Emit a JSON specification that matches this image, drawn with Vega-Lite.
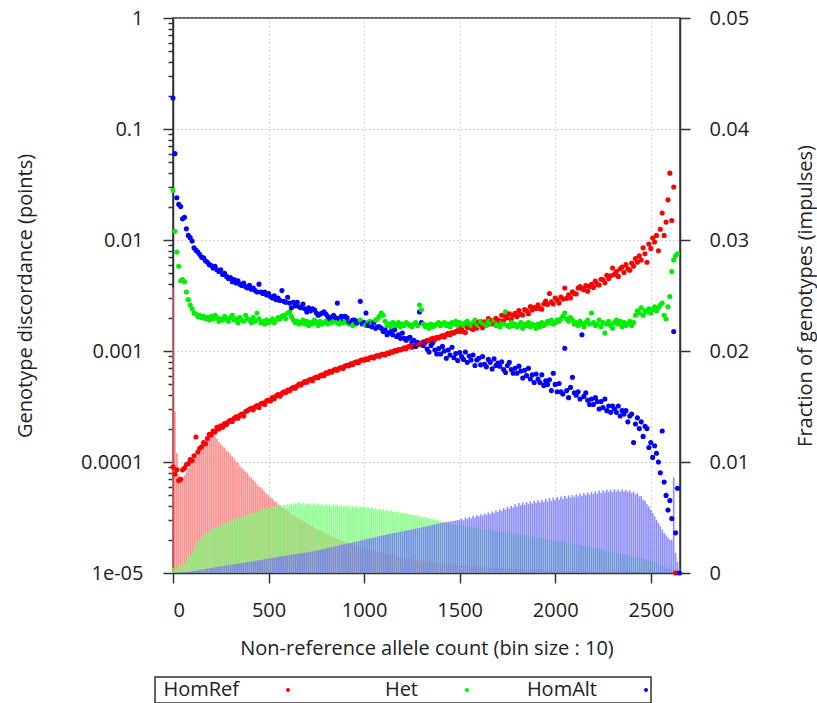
{
"$schema":"https://vega.github.io/schema/vega-lite/v6.json",
"width":507,"height":555,
"autosize":{"type":"none"},
"padding":{"left":173,"top":18,"right":137,"bottom":130},
"config":{"font":"Open Sans","view":{"stroke":"#333","strokeWidth":1.5},
"axis":{"labelFontSize":20,"titleFontSize":20,"labelColor":"#222","titleColor":"#222","titleFontWeight":"normal","domainColor":"#333","tickColor":"#333","domainWidth":1.5,"tickWidth":1.5,"gridColor":"#aaa","gridDash":[1,3],"gridWidth":1},
"legend":{"strokeWidth":1.5}},
"data":{"values":[
{"x":0,"r":9.0e-5,"e":0.028,"a":0.19,"R":0.0257,"E":4.5e-4,"A":0},
{"x":10,"r":7.8e-5,"e":0.012,"a":0.06,"R":0.0145,"E":4.5e-4,"A":0},
{"x":20,"r":8.5e-5,"e":7.8e-3,"a":0.024,"R":0.0108,"E":5.0e-4,"A":1e-5},
{"x":30,"r":6.8e-5,"e":5.8e-3,"a":0.021,"R":8.8e-3,"E":5.5e-4,"A":2e-5},
{"x":40,"r":7.0e-5,"e":4.3e-3,"a":0.02,"R":8.4e-3,"E":6.5e-4,"A":3e-5},
{"x":50,"r":8.5e-5,"e":4.4e-3,"a":0.0155,"R":8.6e-3,"E":7.5e-4,"A":4e-5},
{"x":60,"r":8.8e-5,"e":4.2e-3,"a":0.016,"R":8.8e-3,"E":9.0e-4,"A":6e-5},
{"x":70,"r":9.5e-5,"e":3.4e-3,"a":0.0126,"R":9.1e-3,"E":1.1e-3,"A":8e-5},
{"x":80,"r":9.7e-5,"e":2.9e-3,"a":0.011,"R":9.4e-3,"E":1.4e-3,"A":1.0e-4},
{"x":90,"r":1.05e-4,"e":2.6e-3,"a":0.0105,"R":9.8e-3,"E":1.6e-3,"A":1.2e-4},
{"x":100,"r":1.03e-4,"e":2.4e-3,"a":9.8e-3,"R":0.0101,"E":1.9e-3,"A":1.5e-4},
{"x":110,"r":1.14e-4,"e":2.2e-3,"a":8.5e-3,"R":0.0103,"E":2.2e-3,"A":1.8e-4},
{"x":120,"r":1.68e-4,"e":2.15e-3,"a":8.1e-3,"R":0.0106,"E":2.5e-3,"A":2.1e-4},
{"x":130,"r":1.23e-4,"e":2.05e-3,"a":7.8e-3,"R":0.0108,"E":2.75e-3,"A":2.4e-4},
{"x":140,"r":1.33e-4,"e":2.1e-3,"a":7.4e-3,"R":0.011,"E":3.0e-3,"A":2.7e-4},
{"x":150,"r":1.37e-4,"e":2.0e-3,"a":7.0e-3,"R":0.0113,"E":3.2e-3,"A":3.0e-4},
{"x":160,"r":1.5e-4,"e":2.05e-3,"a":6.9e-3,"R":0.0115,"E":3.4e-3,"A":3.3e-4},
{"x":170,"r":1.46e-4,"e":1.95e-3,"a":6.5e-3,"R":0.0118,"E":3.55e-3,"A":3.6e-4},
{"x":180,"r":1.63e-4,"e":2.0e-3,"a":6.3e-3,"R":0.012,"E":3.7e-3,"A":3.9e-4},
{"x":190,"r":1.78e-4,"e":1.9e-3,"a":6.0e-3,"R":0.0122,"E":3.8e-3,"A":4.2e-4},
{"x":200,"r":1.75e-4,"e":2.05e-3,"a":5.9e-3,"R":0.0124,"E":3.9e-3,"A":4.5e-4},
{"x":210,"r":1.9e-4,"e":1.95e-3,"a":5.6e-3,"R":0.0125,"E":4.0e-3,"A":4.8e-4},
{"x":220,"r":1.86e-4,"e":2.1e-3,"a":5.8e-3,"R":0.0123,"E":4.05e-3,"A":5.1e-4},
{"x":230,"r":2.05e-4,"e":2.0e-3,"a":5.4e-3,"R":0.0121,"E":4.15e-3,"A":5.4e-4},
{"x":240,"r":1.98e-4,"e":1.85e-3,"a":5.2e-3,"R":0.0118,"E":4.2e-3,"A":5.6e-4},
{"x":250,"r":2.12e-4,"e":1.95e-3,"a":5.4e-3,"R":0.0116,"E":4.3e-3,"A":5.9e-4},
{"x":260,"r":2.06e-4,"e":1.9e-3,"a":4.9e-3,"R":0.0114,"E":4.35e-3,"A":6.2e-4},
{"x":270,"r":2.22e-4,"e":2.05e-3,"a":5.0e-3,"R":0.0113,"E":4.45e-3,"A":6.5e-4},
{"x":280,"r":2.18e-4,"e":1.95e-3,"a":4.7e-3,"R":0.011,"E":4.5e-3,"A":6.8e-4},
{"x":290,"r":2.3e-4,"e":1.85e-3,"a":4.5e-3,"R":0.0109,"E":4.6e-3,"A":7.0e-4},
{"x":300,"r":2.38e-4,"e":2.0e-3,"a":4.6e-3,"R":0.0107,"E":4.7e-3,"A":7.3e-4},
{"x":310,"r":2.32e-4,"e":2.1e-3,"a":4.2e-3,"R":0.0105,"E":4.75e-3,"A":7.6e-4},
{"x":320,"r":2.47e-4,"e":1.9e-3,"a":4.4e-3,"R":0.0103,"E":4.8e-3,"A":7.9e-4},
{"x":330,"r":2.55e-4,"e":1.95e-3,"a":4.1e-3,"R":0.01,"E":4.85e-3,"A":8.2e-4},
{"x":340,"r":2.48e-4,"e":1.8e-3,"a":4.3e-3,"R":9.9e-3,"E":4.95e-3,"A":8.4e-4},
{"x":350,"r":2.63e-4,"e":2.0e-3,"a":4.0e-3,"R":9.6e-3,"E":5.0e-3,"A":8.7e-4},
{"x":360,"r":2.7e-4,"e":1.9e-3,"a":3.9e-3,"R":9.5e-3,"E":5.05e-3,"A":9.0e-4},
{"x":370,"r":2.6e-4,"e":1.85e-3,"a":4.1e-3,"R":9.3e-3,"E":5.1e-3,"A":9.3e-4},
{"x":380,"r":2.85e-4,"e":2.1e-3,"a":3.8e-3,"R":9.1e-3,"E":5.15e-3,"A":9.6e-4},
{"x":390,"r":2.9e-4,"e":1.95e-3,"a":3.7e-3,"R":9.0e-3,"E":5.2e-3,"A":9.8e-4},
{"x":400,"r":2.98e-4,"e":1.9e-3,"a":3.9e-3,"R":8.7e-3,"E":5.3e-3,"A":1.01e-3},
{"x":410,"r":3.05e-4,"e":1.8e-3,"a":3.6e-3,"R":8.6e-3,"E":5.35e-3,"A":1.04e-3},
{"x":420,"r":2.95e-4,"e":2.0e-3,"a":3.7e-3,"R":8.4e-3,"E":5.4e-3,"A":1.07e-3},
{"x":430,"r":3.15e-4,"e":1.85e-3,"a":3.5e-3,"R":8.2e-3,"E":5.5e-3,"A":1.1e-3},
{"x":440,"r":3.22e-4,"e":2.2e-3,"a":3.4e-3,"R":8.0e-3,"E":5.55e-3,"A":1.12e-3},
{"x":450,"r":3.1e-4,"e":1.95e-3,"a":4.0e-3,"R":7.8e-3,"E":5.6e-3,"A":1.15e-3},
{"x":460,"r":3.35e-4,"e":1.8e-3,"a":3.4e-3,"R":7.7e-3,"E":5.7e-3,"A":1.18e-3},
{"x":470,"r":3.4e-4,"e":1.85e-3,"a":3.3e-3,"R":7.5e-3,"E":5.75e-3,"A":1.21e-3},
{"x":480,"r":3.3e-4,"e":1.75e-3,"a":3.4e-3,"R":7.3e-3,"E":5.8e-3,"A":1.24e-3},
{"x":490,"r":3.55e-4,"e":1.9e-3,"a":3.2e-3,"R":7.1e-3,"E":5.85e-3,"A":1.27e-3},
{"x":500,"r":3.62e-4,"e":1.8e-3,"a":3.3e-3,"R":7.0e-3,"E":5.9e-3,"A":1.3e-3},
{"x":510,"r":3.55e-4,"e":1.85e-3,"a":3.1e-3,"R":6.8e-3,"E":5.95e-3,"A":1.33e-3},
{"x":520,"r":3.8e-4,"e":1.95e-3,"a":3.0e-3,"R":6.7e-3,"E":6.0e-3,"A":1.36e-3},
{"x":530,"r":3.72e-4,"e":1.8e-3,"a":3.15e-3,"R":6.5e-3,"E":5.95e-3,"A":1.39e-3},
{"x":540,"r":3.95e-4,"e":1.9e-3,"a":2.9e-3,"R":6.4e-3,"E":6.05e-3,"A":1.42e-3},
{"x":550,"r":4.05e-4,"e":2.0e-3,"a":3.0e-3,"R":6.2e-3,"E":6.0e-3,"A":1.45e-3},
{"x":560,"r":3.92e-4,"e":1.95e-3,"a":2.85e-3,"R":6.1e-3,"E":6.1e-3,"A":1.48e-3},
{"x":570,"r":4.15e-4,"e":2.05e-3,"a":3.5e-3,"R":5.9e-3,"E":6.05e-3,"A":1.51e-3},
{"x":580,"r":4.3e-4,"e":2.1e-3,"a":2.8e-3,"R":5.8e-3,"E":6.15e-3,"A":1.54e-3},
{"x":590,"r":4.22e-4,"e":1.95e-3,"a":2.75e-3,"R":5.7e-3,"E":6.0e-3,"A":1.57e-3},
{"x":600,"r":4.45e-4,"e":2.2e-3,"a":3.05e-3,"R":5.6e-3,"E":6.2e-3,"A":1.6e-3},
{"x":610,"r":4.38e-4,"e":2.25e-3,"a":2.7e-3,"R":5.5e-3,"E":6.1e-3,"A":1.62e-3},
{"x":620,"r":4.6e-4,"e":2.05e-3,"a":2.45e-3,"R":5.3e-3,"E":6.25e-3,"A":1.65e-3},
{"x":630,"r":4.72e-4,"e":1.9e-3,"a":2.75e-3,"R":5.2e-3,"E":6.15e-3,"A":1.67e-3},
{"x":640,"r":4.62e-4,"e":1.8e-3,"a":2.55e-3,"R":5.1e-3,"E":6.3e-3,"A":1.7e-3},
{"x":650,"r":4.85e-4,"e":1.85e-3,"a":2.75e-3,"R":5.0e-3,"E":6.2e-3,"A":1.72e-3},
{"x":660,"r":5.05e-4,"e":1.75e-3,"a":2.5e-3,"R":4.9e-3,"E":6.35e-3,"A":1.75e-3},
{"x":670,"r":4.95e-4,"e":1.8e-3,"a":2.45e-3,"R":4.8e-3,"E":6.2e-3,"A":1.77e-3},
{"x":680,"r":5.15e-4,"e":1.9e-3,"a":2.65e-3,"R":4.7e-3,"E":6.3e-3,"A":1.8e-3},
{"x":690,"r":5.3e-4,"e":1.75e-3,"a":2.4e-3,"R":4.6e-3,"E":6.15e-3,"A":1.82e-3},
{"x":700,"r":5.22e-4,"e":1.85e-3,"a":2.25e-3,"R":4.5e-3,"E":6.3e-3,"A":1.85e-3},
{"x":710,"r":5.45e-4,"e":1.7e-3,"a":2.45e-3,"R":4.4e-3,"E":6.2e-3,"A":1.88e-3},
{"x":720,"r":5.55e-4,"e":1.8e-3,"a":2.3e-3,"R":4.3e-3,"E":6.25e-3,"A":1.92e-3},
{"x":730,"r":5.4e-4,"e":1.75e-3,"a":2.4e-3,"R":4.2e-3,"E":6.1e-3,"A":1.95e-3},
{"x":740,"r":5.7e-4,"e":1.9e-3,"a":2.35e-3,"R":4.1e-3,"E":6.3e-3,"A":1.99e-3},
{"x":750,"r":5.82e-4,"e":1.8e-3,"a":2.2e-3,"R":4.0e-3,"E":6.15e-3,"A":2.02e-3},
{"x":760,"r":5.75e-4,"e":1.7e-3,"a":2.1e-3,"R":3.9e-3,"E":6.25e-3,"A":2.06e-3},
{"x":770,"r":6.0e-4,"e":1.85e-3,"a":2.15e-3,"R":3.85e-3,"E":6.1e-3,"A":2.09e-3},
{"x":780,"r":6.1e-4,"e":1.75e-3,"a":2.2e-3,"R":3.75e-3,"E":6.2e-3,"A":2.13e-3},
{"x":790,"r":5.98e-4,"e":1.8e-3,"a":2.25e-3,"R":3.65e-3,"E":6.05e-3,"A":2.16e-3},
{"x":800,"r":6.35e-4,"e":1.85e-3,"a":2.15e-3,"R":3.55e-3,"E":6.2e-3,"A":2.2e-3},
{"x":810,"r":6.3e-4,"e":1.75e-3,"a":2.05e-3,"R":3.5e-3,"E":6.1e-3,"A":2.24e-3},
{"x":820,"r":6.55e-4,"e":1.9e-3,"a":1.95e-3,"R":3.4e-3,"E":6.15e-3,"A":2.28e-3},
{"x":830,"r":6.45e-4,"e":1.8e-3,"a":2.0e-3,"R":3.3e-3,"E":6.0e-3,"A":2.32e-3},
{"x":840,"r":6.7e-4,"e":1.85e-3,"a":2.1e-3,"R":3.25e-3,"E":6.2e-3,"A":2.36e-3},
{"x":850,"r":6.85e-4,"e":1.95e-3,"a":2.0e-3,"R":3.15e-3,"E":6.05e-3,"A":2.4e-3},
{"x":860,"r":6.72e-4,"e":1.8e-3,"a":2.7e-3,"R":3.1e-3,"E":6.15e-3,"A":2.44e-3},
{"x":870,"r":7.0e-4,"e":1.75e-3,"a":1.95e-3,"R":3.0e-3,"E":6.0e-3,"A":2.48e-3},
{"x":880,"r":7.1e-4,"e":1.85e-3,"a":2.05e-3,"R":2.95e-3,"E":6.1e-3,"A":2.52e-3},
{"x":890,"r":6.95e-4,"e":1.8e-3,"a":1.95e-3,"R":2.9e-3,"E":5.95e-3,"A":2.56e-3},
{"x":900,"r":7.3e-4,"e":1.9e-3,"a":2.05e-3,"R":2.8e-3,"E":6.1e-3,"A":2.6e-3},
{"x":910,"r":7.45e-4,"e":1.8e-3,"a":2.0e-3,"R":2.75e-3,"E":6.0e-3,"A":2.64e-3},
{"x":920,"r":7.35e-4,"e":1.75e-3,"a":1.85e-3,"R":2.7e-3,"E":6.05e-3,"A":2.68e-3},
{"x":930,"r":7.65e-4,"e":1.85e-3,"a":1.8e-3,"R":2.6e-3,"E":5.9e-3,"A":2.72e-3},
{"x":940,"r":7.55e-4,"e":1.7e-3,"a":1.9e-3,"R":2.55e-3,"E":6.05e-3,"A":2.76e-3},
{"x":950,"r":7.85e-4,"e":1.8e-3,"a":1.9e-3,"R":2.5e-3,"E":5.95e-3,"A":2.8e-3},
{"x":960,"r":8.0e-4,"e":1.75e-3,"a":1.8e-3,"R":2.45e-3,"E":6.0e-3,"A":2.84e-3},
{"x":970,"r":7.85e-4,"e":1.85e-3,"a":1.85e-3,"R":2.4e-3,"E":5.85e-3,"A":2.88e-3},
{"x":980,"r":8.2e-4,"e":1.9e-3,"a":2.8e-3,"R":2.3e-3,"E":6.0e-3,"A":2.92e-3},
{"x":990,"r":8.35e-4,"e":1.8e-3,"a":1.75e-3,"R":2.25e-3,"E":5.9e-3,"A":2.96e-3},
{"x":1000,"r":8.25e-4,"e":1.75e-3,"a":1.8e-3,"R":2.2e-3,"E":5.95e-3,"A":3.0e-3},
{"x":1010,"r":8.5e-4,"e":1.7e-3,"a":2.2e-3,"R":2.15e-3,"E":5.85e-3,"A":3.04e-3},
{"x":1020,"r":8.4e-4,"e":1.8e-3,"a":1.7e-3,"R":2.1e-3,"E":5.95e-3,"A":3.08e-3},
{"x":1030,"r":8.7e-4,"e":1.85e-3,"a":1.75e-3,"R":2.05e-3,"E":5.8e-3,"A":3.12e-3},
{"x":1040,"r":8.8e-4,"e":1.75e-3,"a":1.65e-3,"R":2.0e-3,"E":5.9e-3,"A":3.16e-3},
{"x":1050,"r":8.65e-4,"e":1.8e-3,"a":1.8e-3,"R":1.95e-3,"E":5.75e-3,"A":3.2e-3},
{"x":1060,"r":8.95e-4,"e":1.9e-3,"a":1.6e-3,"R":1.9e-3,"E":5.85e-3,"A":3.24e-3},
{"x":1070,"r":9.1e-4,"e":1.95e-3,"a":1.65e-3,"R":1.87e-3,"E":5.7e-3,"A":3.28e-3},
{"x":1080,"r":8.95e-4,"e":2.05e-3,"a":1.65e-3,"R":1.83e-3,"E":5.8e-3,"A":3.32e-3},
{"x":1090,"r":9.3e-4,"e":2.2e-3,"a":1.6e-3,"R":1.79e-3,"E":5.65e-3,"A":3.36e-3},
{"x":1100,"r":9.35e-4,"e":2.1e-3,"a":1.5e-3,"R":1.75e-3,"E":5.75e-3,"A":3.4e-3},
{"x":1110,"r":9.2e-4,"e":1.85e-3,"a":1.55e-3,"R":1.71e-3,"E":5.6e-3,"A":3.43e-3},
{"x":1120,"r":9.6e-4,"e":1.7e-3,"a":1.4e-3,"R":1.67e-3,"E":5.7e-3,"A":3.47e-3},
{"x":1130,"r":9.5e-4,"e":1.75e-3,"a":1.45e-3,"R":1.63e-3,"E":5.55e-3,"A":3.5e-3},
{"x":1140,"r":9.85e-4,"e":1.65e-3,"a":1.5e-3,"R":1.6e-3,"E":5.65e-3,"A":3.54e-3},
{"x":1150,"r":9.75e-4,"e":1.8e-3,"a":1.4e-3,"R":1.56e-3,"E":5.5e-3,"A":3.57e-3},
{"x":1160,"r":1.01e-3,"e":1.75e-3,"a":1.55e-3,"R":1.53e-3,"E":5.55e-3,"A":3.61e-3},
{"x":1170,"r":1.0e-3,"e":1.7e-3,"a":1.35e-3,"R":1.5e-3,"E":5.45e-3,"A":3.64e-3},
{"x":1180,"r":1.03e-3,"e":1.8e-3,"a":1.4e-3,"R":1.46e-3,"E":5.5e-3,"A":3.68e-3},
{"x":1190,"r":1.02e-3,"e":1.65e-3,"a":1.3e-3,"R":1.43e-3,"E":5.4e-3,"A":3.71e-3},
{"x":1200,"r":1.04e-3,"e":1.75e-3,"a":1.45e-3,"R":1.4e-3,"E":5.45e-3,"A":3.75e-3},
{"x":1210,"r":1.07e-3,"e":1.7e-3,"a":1.3e-3,"R":1.37e-3,"E":5.35e-3,"A":3.78e-3},
{"x":1220,"r":1.05e-3,"e":1.8e-3,"a":1.25e-3,"R":1.34e-3,"E":5.4e-3,"A":3.82e-3},
{"x":1230,"r":1.09e-3,"e":1.75e-3,"a":1.3e-3,"R":1.31e-3,"E":5.3e-3,"A":3.85e-3},
{"x":1240,"r":1.11e-3,"e":1.7e-3,"a":1.33e-3,"R":1.28e-3,"E":5.3e-3,"A":3.89e-3},
{"x":1250,"r":1.08e-3,"e":1.65e-3,"a":1.2e-3,"R":1.25e-3,"E":5.2e-3,"A":3.92e-3},
{"x":1260,"r":1.13e-3,"e":1.75e-3,"a":1.25e-3,"R":1.22e-3,"E":5.25e-3,"A":3.96e-3},
{"x":1270,"r":1.12e-3,"e":1.8e-3,"a":1.1e-3,"R":1.2e-3,"E":5.15e-3,"A":3.99e-3},
{"x":1280,"r":1.16e-3,"e":1.7e-3,"a":1.2e-3,"R":1.17e-3,"E":5.2e-3,"A":4.03e-3},
{"x":1290,"r":1.14e-3,"e":2.6e-3,"a":2.25e-3,"R":1.14e-3,"E":5.1e-3,"A":4.06e-3},
{"x":1300,"r":1.18e-3,"e":2.35e-3,"a":1.8e-3,"R":1.12e-3,"E":5.1e-3,"A":4.1e-3},
{"x":1310,"r":1.21e-3,"e":1.75e-3,"a":1.12e-3,"R":1.09e-3,"E":5.0e-3,"A":4.14e-3},
{"x":1320,"r":1.19e-3,"e":1.65e-3,"a":1.21e-3,"R":1.07e-3,"E":5.05e-3,"A":4.18e-3},
{"x":1330,"r":1.25e-3,"e":1.7e-3,"a":1.04e-3,"R":1.04e-3,"E":4.95e-3,"A":4.22e-3},
{"x":1340,"r":1.23e-3,"e":1.6e-3,"a":9.8e-4,"R":1.02e-3,"E":4.95e-3,"A":4.26e-3},
{"x":1350,"r":1.28e-3,"e":1.75e-3,"a":1.12e-3,"R":1.0e-3,"E":4.85e-3,"A":4.3e-3},
{"x":1360,"r":1.3e-3,"e":1.65e-3,"a":1.19e-3,"R":9.7e-4,"E":4.9e-3,"A":4.34e-3},
{"x":1370,"r":1.27e-3,"e":1.7e-3,"a":1.02e-3,"R":9.5e-4,"E":4.8e-3,"A":4.38e-3},
{"x":1380,"r":1.33e-3,"e":1.75e-3,"a":9.4e-4,"R":9.3e-4,"E":4.8e-3,"A":4.42e-3},
{"x":1390,"r":1.31e-3,"e":1.8e-3,"a":1.05e-3,"R":9.1e-4,"E":4.7e-3,"A":4.46e-3},
{"x":1400,"r":1.35e-3,"e":1.7e-3,"a":9.4e-4,"R":8.9e-4,"E":4.7e-3,"A":4.5e-3},
{"x":1410,"r":1.38e-3,"e":1.75e-3,"a":1.1e-3,"R":8.7e-4,"E":4.6e-3,"A":4.53e-3},
{"x":1420,"r":1.34e-3,"e":1.8e-3,"a":1.0e-3,"R":8.5e-4,"E":4.6e-3,"A":4.56e-3},
{"x":1430,"r":1.41e-3,"e":1.7e-3,"a":8.6e-4,"R":8.3e-4,"E":4.5e-3,"A":4.59e-3},
{"x":1440,"r":1.44e-3,"e":1.75e-3,"a":1.02e-3,"R":8.1e-4,"E":4.45e-3,"A":4.62e-3},
{"x":1450,"r":1.4e-3,"e":1.65e-3,"a":9.2e-4,"R":7.9e-4,"E":4.4e-3,"A":4.65e-3},
{"x":1460,"r":1.47e-3,"e":1.8e-3,"a":1.08e-3,"R":7.7e-4,"E":4.37e-3,"A":4.68e-3},
{"x":1470,"r":1.45e-3,"e":1.75e-3,"a":8.7e-4,"R":7.5e-4,"E":4.35e-3,"A":4.71e-3},
{"x":1480,"r":1.5e-3,"e":1.85e-3,"a":9.5e-4,"R":7.3e-4,"E":4.32e-3,"A":4.74e-3},
{"x":1490,"r":1.53e-3,"e":1.7e-3,"a":8.2e-4,"R":7.2e-4,"E":4.3e-3,"A":4.77e-3},
{"x":1500,"r":1.5e-3,"e":1.8e-3,"a":9.7e-4,"R":7.0e-4,"E":4.27e-3,"A":4.8e-3},
{"x":1510,"r":1.61e-3,"e":1.75e-3,"a":8.9e-4,"R":6.8e-4,"E":4.25e-3,"A":4.9e-3},
{"x":1520,"r":1.49e-3,"e":1.7e-3,"a":8.4e-4,"R":6.7e-4,"E":4.22e-3,"A":4.75e-3},
{"x":1530,"r":1.47e-3,"e":1.8e-3,"a":9.8e-4,"R":6.5e-4,"E":4.2e-3,"A":5.0e-3},
{"x":1540,"r":1.63e-3,"e":1.85e-3,"a":7.9e-4,"R":6.4e-4,"E":4.17e-3,"A":4.85e-3},
{"x":1550,"r":1.73e-3,"e":1.75e-3,"a":9.0e-4,"R":6.2e-4,"E":4.15e-3,"A":5.05e-3},
{"x":1560,"r":1.6e-3,"e":1.7e-3,"a":8.3e-4,"R":6.1e-4,"E":4.12e-3,"A":4.9e-3},
{"x":1570,"r":1.56e-3,"e":1.8e-3,"a":9.2e-4,"R":5.9e-4,"E":4.1e-3,"A":5.15e-3},
{"x":1580,"r":1.69e-3,"e":1.9e-3,"a":7.4e-4,"R":5.8e-4,"E":4.07e-3,"A":5.0e-3},
{"x":1590,"r":1.61e-3,"e":1.75e-3,"a":8.3e-4,"R":5.7e-4,"E":4.05e-3,"A":5.2e-3},
{"x":1600,"r":1.82e-3,"e":1.7e-3,"a":8.6e-4,"R":5.5e-4,"E":4.02e-3,"A":5.1e-3},
{"x":1610,"r":1.74e-3,"e":1.85e-3,"a":7.5e-4,"R":5.4e-4,"E":4.0e-3,"A":5.3e-3},
{"x":1620,"r":1.62e-3,"e":1.8e-3,"a":8.9e-4,"R":5.3e-4,"E":3.97e-3,"A":5.15e-3},
{"x":1630,"r":1.83e-3,"e":1.75e-3,"a":7.6e-4,"R":5.1e-4,"E":3.95e-3,"A":5.35e-3},
{"x":1640,"r":1.74e-3,"e":1.7e-3,"a":7.2e-4,"R":5.0e-4,"E":3.92e-3,"A":5.25e-3},
{"x":1650,"r":1.96e-3,"e":1.85e-3,"a":8.4e-4,"R":4.9e-4,"E":3.9e-3,"A":5.45e-3},
{"x":1660,"r":1.75e-3,"e":1.8e-3,"a":7.9e-4,"R":4.8e-4,"E":3.87e-3,"A":5.3e-3},
{"x":1670,"r":1.88e-3,"e":1.75e-3,"a":6.9e-4,"R":4.7e-4,"E":3.85e-3,"A":5.55e-3},
{"x":1680,"r":1.75e-3,"e":1.9e-3,"a":8.5e-4,"R":4.6e-4,"E":3.82e-3,"A":5.4e-3},
{"x":1690,"r":1.97e-3,"e":1.7e-3,"a":7.4e-4,"R":4.5e-4,"E":3.8e-3,"A":5.65e-3},
{"x":1700,"r":1.9e-3,"e":1.75e-3,"a":7.8e-4,"R":4.4e-4,"E":3.77e-3,"A":5.5e-3},
{"x":1710,"r":1.87e-3,"e":1.65e-3,"a":7.3e-4,"R":4.3e-4,"E":3.75e-3,"A":5.75e-3},
{"x":1720,"r":2.1e-3,"e":1.8e-3,"a":8.0e-4,"R":4.2e-4,"E":3.72e-3,"A":5.6e-3},
{"x":1730,"r":1.87e-3,"e":1.75e-3,"a":6.8e-4,"R":4.1e-4,"E":3.7e-3,"A":5.85e-3},
{"x":1740,"r":2.05e-3,"e":2.25e-3,"a":6.4e-4,"R":4.0e-4,"E":3.67e-3,"A":5.7e-3},
{"x":1750,"r":1.99e-3,"e":1.7e-3,"a":7.4e-4,"R":3.9e-4,"E":3.65e-3,"A":5.95e-3},
{"x":1760,"r":2.16e-3,"e":1.65e-3,"a":7.9e-4,"R":3.8e-4,"E":3.62e-3,"A":5.8e-3},
{"x":1770,"r":1.92e-3,"e":1.8e-3,"a":6.8e-4,"R":3.7e-4,"E":3.6e-3,"A":6.05e-3},
{"x":1780,"r":2.1e-3,"e":1.7e-3,"a":6.3e-4,"R":3.6e-4,"E":3.57e-3,"A":5.9e-3},
{"x":1790,"r":2.19e-3,"e":1.75e-3,"a":7.0e-4,"R":3.5e-4,"E":3.55e-3,"A":6.2e-3},
{"x":1800,"r":2.04e-3,"e":1.65e-3,"a":6.3e-4,"R":3.4e-4,"E":3.52e-3,"A":6.0e-3},
{"x":1810,"r":2.31e-3,"e":1.7e-3,"a":7.3e-4,"R":3.3e-4,"E":3.5e-3,"A":6.3e-3},
{"x":1820,"r":2.14e-3,"e":1.8e-3,"a":6.6e-4,"R":3.2e-4,"E":3.47e-3,"A":6.1e-3},
{"x":1830,"r":2.11e-3,"e":1.6e-3,"a":5.7e-4,"R":3.1e-4,"E":3.45e-3,"A":6.35e-3},
{"x":1840,"r":2.36e-3,"e":1.75e-3,"a":6.7e-4,"R":3.0e-4,"E":3.42e-3,"A":6.15e-3},
{"x":1850,"r":2.32e-3,"e":1.7e-3,"a":6.0e-4,"R":3.0e-4,"E":3.4e-3,"A":6.4e-3},
{"x":1860,"r":2.17e-3,"e":1.8e-3,"a":7.0e-4,"R":2.9e-4,"E":3.37e-3,"A":6.2e-3},
{"x":1870,"r":2.52e-3,"e":1.65e-3,"a":5.6e-4,"R":2.8e-4,"E":3.34e-3,"A":6.45e-3},
{"x":1880,"r":2.34e-3,"e":1.75e-3,"a":6.1e-4,"R":2.7e-4,"E":3.3e-3,"A":6.25e-3},
{"x":1890,"r":2.46e-3,"e":1.7e-3,"a":5.2e-4,"R":2.7e-4,"E":3.27e-3,"A":6.5e-3},
{"x":1900,"r":2.42e-3,"e":1.6e-3,"a":6.2e-4,"R":2.6e-4,"E":3.24e-3,"A":6.3e-3},
{"x":1910,"r":2.61e-3,"e":1.75e-3,"a":5.6e-4,"R":2.5e-4,"E":3.21e-3,"A":6.55e-3},
{"x":1920,"r":2.42e-3,"e":1.65e-3,"a":5.2e-4,"R":2.5e-4,"E":3.18e-3,"A":6.35e-3},
{"x":1930,"r":2.38e-3,"e":1.8e-3,"a":6.1e-4,"R":2.4e-4,"E":3.15e-3,"A":6.6e-3},
{"x":1940,"r":2.65e-3,"e":1.7e-3,"a":4.9e-4,"R":2.3e-4,"E":3.12e-3,"A":6.4e-3},
{"x":1950,"r":2.82e-3,"e":1.75e-3,"a":5.4e-4,"R":2.3e-4,"E":3.09e-3,"A":6.7e-3},
{"x":1960,"r":2.62e-3,"e":1.85e-3,"a":5.0e-4,"R":2.2e-4,"E":3.06e-3,"A":6.45e-3},
{"x":1970,"r":3.3e-3,"e":1.8e-3,"a":5.5e-4,"R":2.1e-4,"E":3.02e-3,"A":6.75e-3},
{"x":1980,"r":2.78e-3,"e":1.9e-3,"a":4.4e-4,"R":2.1e-4,"E":2.99e-3,"A":6.5e-3},
{"x":1990,"r":2.65e-3,"e":1.75e-3,"a":6.3e-4,"R":2.0e-4,"E":2.96e-3,"A":6.8e-3},
{"x":2000,"r":3.0e-3,"e":1.8e-3,"a":5.0e-4,"R":2.0e-4,"E":2.93e-3,"A":6.55e-3},
{"x":2010,"r":2.88e-3,"e":1.9e-3,"a":4.3e-4,"R":1.9e-4,"E":2.9e-3,"A":6.85e-3},
{"x":2020,"r":2.7e-3,"e":1.85e-3,"a":5.1e-4,"R":1.8e-4,"E":2.87e-3,"A":6.6e-3},
{"x":2030,"r":3.07e-3,"e":1.95e-3,"a":4.3e-4,"R":1.8e-4,"E":2.84e-3,"A":6.9e-3},
{"x":2040,"r":2.94e-3,"e":2.05e-3,"a":4.1e-4,"R":1.7e-4,"E":2.81e-3,"A":6.7e-3},
{"x":2050,"r":3.7e-3,"e":2.2e-3,"a":1.06e-3,"R":1.7e-4,"E":2.77e-3,"A":6.95e-3},
{"x":2060,"r":2.98e-3,"e":1.95e-3,"a":4.4e-4,"R":1.6e-4,"E":2.74e-3,"A":6.75e-3},
{"x":2070,"r":3.21e-3,"e":1.85e-3,"a":3.8e-4,"R":1.6e-4,"E":2.71e-3,"A":7.0e-3},
{"x":2080,"r":3.01e-3,"e":2.0e-3,"a":4.7e-4,"R":1.5e-4,"E":2.68e-3,"A":6.8e-3},
{"x":2090,"r":3.41e-3,"e":1.9e-3,"a":5.8e-4,"R":1.5e-4,"E":2.65e-3,"A":7.05e-3},
{"x":2100,"r":3.3e-3,"e":1.75e-3,"a":4.2e-4,"R":1.4e-4,"E":2.62e-3,"A":6.85e-3},
{"x":2110,"r":3.26e-3,"e":1.8e-3,"a":4.0e-4,"R":1.4e-4,"E":2.59e-3,"A":7.1e-3},
{"x":2120,"r":3.69e-3,"e":1.7e-3,"a":4.3e-4,"R":1.3e-4,"E":2.55e-3,"A":6.9e-3},
{"x":2130,"r":3.8e-3,"e":1.85e-3,"a":3.7e-4,"R":1.3e-4,"E":2.52e-3,"A":7.15e-3},
{"x":2140,"r":3.65e-3,"e":1.75e-3,"a":1.4e-3,"R":1.2e-4,"E":2.49e-3,"A":6.95e-3},
{"x":2150,"r":3.56e-3,"e":1.65e-3,"a":3.9e-4,"R":1.2e-4,"E":2.46e-3,"A":7.2e-3},
{"x":2160,"r":3.88e-3,"e":1.8e-3,"a":4.2e-4,"R":1.2e-4,"E":2.43e-3,"A":7.0e-3},
{"x":2170,"r":3.46e-3,"e":1.9e-3,"a":3.6e-4,"R":1.1e-4,"E":2.4e-3,"A":7.25e-3},
{"x":2180,"r":3.82e-3,"e":1.75e-3,"a":3.3e-4,"R":1.1e-4,"E":2.36e-3,"A":7.05e-3},
{"x":2190,"r":3.99e-3,"e":2.2e-3,"a":3.7e-4,"R":1.0e-4,"E":2.33e-3,"A":7.3e-3},
{"x":2200,"r":3.74e-3,"e":1.8e-3,"a":3.3e-4,"R":1.0e-4,"E":2.3e-3,"A":7.1e-3},
{"x":2210,"r":4.26e-3,"e":1.7e-3,"a":3.8e-4,"R":1.0e-4,"E":2.26e-3,"A":7.35e-3},
{"x":2220,"r":3.98e-3,"e":1.75e-3,"a":3.5e-4,"R":9e-5,"E":2.22e-3,"A":7.15e-3},
{"x":2230,"r":3.93e-3,"e":1.9e-3,"a":3.0e-4,"R":9e-5,"E":2.18e-3,"A":7.4e-3},
{"x":2240,"r":4.43e-3,"e":1.65e-3,"a":3.5e-4,"R":9e-5,"E":2.15e-3,"A":7.2e-3},
{"x":2250,"r":4.39e-3,"e":1.8e-3,"a":3.1e-4,"R":8e-5,"E":2.11e-3,"A":7.45e-3},
{"x":2260,"r":4.12e-3,"e":1.45e-3,"a":3.7e-4,"R":8e-5,"E":2.07e-3,"A":7.25e-3},
{"x":2270,"r":4.82e-3,"e":1.75e-3,"a":2.9e-4,"R":8e-5,"E":2.03e-3,"A":7.5e-3},
{"x":2280,"r":4.49e-3,"e":1.85e-3,"a":3.2e-4,"R":7e-5,"E":1.99e-3,"A":7.3e-3},
{"x":2290,"r":4.76e-3,"e":1.7e-3,"a":2.8e-4,"R":7e-5,"E":1.95e-3,"A":7.5e-3},
{"x":2300,"r":5.6e-3,"e":1.6e-3,"a":3.2e-4,"R":7e-5,"E":1.92e-3,"A":7.3e-3},
{"x":2310,"r":4.9e-3,"e":1.8e-3,"a":3.0e-4,"R":7e-5,"E":1.88e-3,"A":7.55e-3},
{"x":2320,"r":5.2e-3,"e":1.9e-3,"a":2.8e-4,"R":6e-5,"E":1.84e-3,"A":7.35e-3},
{"x":2330,"r":4.7e-3,"e":1.75e-3,"a":3.2e-4,"R":6e-5,"E":1.8e-3,"A":7.5e-3},
{"x":2340,"r":5.5e-3,"e":1.85e-3,"a":2.6e-4,"R":6e-5,"E":1.76e-3,"A":7.3e-3},
{"x":2350,"r":5.7e-3,"e":1.65e-3,"a":2.9e-4,"R":5e-5,"E":1.72e-3,"A":7.55e-3},
{"x":2360,"r":5.1e-3,"e":1.8e-3,"a":2.7e-4,"R":5e-5,"E":1.68e-3,"A":7.35e-3},
{"x":2370,"r":6.0e-3,"e":1.7e-3,"a":2.9e-4,"R":5e-5,"E":1.65e-3,"A":7.5e-3},
{"x":2380,"r":5.5e-3,"e":1.75e-3,"a":2.3e-4,"R":5e-5,"E":1.61e-3,"A":7.3e-3},
{"x":2390,"r":5.35e-3,"e":1.85e-3,"a":2.6e-4,"R":4e-5,"E":1.57e-3,"A":7.45e-3},
{"x":2400,"r":6.2e-3,"e":1.7e-3,"a":2.7e-4,"R":4e-5,"E":1.53e-3,"A":7.2e-3},
{"x":2410,"r":5.8e-3,"e":1.8e-3,"a":1.5e-4,"R":4e-5,"E":1.49e-3,"A":7.35e-3},
{"x":2420,"r":6.8e-3,"e":2.1e-3,"a":2.2e-4,"R":4e-5,"E":1.45e-3,"A":7.1e-3},
{"x":2430,"r":6.3e-3,"e":2.3e-3,"a":2.5e-4,"R":3e-5,"E":1.42e-3,"A":7.2e-3},
{"x":2440,"r":7.2e-3,"e":2.2e-3,"a":2.0e-4,"R":3e-5,"E":1.38e-3,"A":6.9e-3},
{"x":2450,"r":6.6e-3,"e":2.45e-3,"a":2.3e-4,"R":3e-5,"E":1.34e-3,"A":6.95e-3},
{"x":2460,"r":8.5e-3,"e":2.1e-3,"a":1.7e-4,"R":3e-5,"E":1.3e-3,"A":6.6e-3},
{"x":2470,"r":7.5e-3,"e":2.3e-3,"a":2.1e-4,"R":3e-5,"E":1.25e-3,"A":6.5e-3},
{"x":2480,"r":6.3e-3,"e":2.25e-3,"a":2.0e-4,"R":2e-5,"E":1.2e-3,"A":6.2e-3},
{"x":2490,"r":9.2e-3,"e":2.4e-3,"a":1.35e-4,"R":2e-5,"E":1.15e-3,"A":6.0e-3},
{"x":2500,"r":8.4e-3,"e":2.2e-3,"a":1.5e-4,"R":2e-5,"E":1.1e-3,"A":5.7e-3},
{"x":2510,"r":1.04e-2,"e":2.35e-3,"a":1.1e-4,"R":2e-5,"E":1.02e-3,"A":5.4e-3},
{"x":2520,"r":9.6e-3,"e":2.5e-3,"a":1.4e-4,"R":2e-5,"E":9.5e-4,"A":5.1e-3},
{"x":2530,"r":1.1e-2,"e":2.3e-3,"a":1.2e-4,"R":2e-5,"E":8.8e-4,"A":4.8e-3},
{"x":2540,"r":8.0e-3,"e":2.45e-3,"a":1.0e-4,"R":1e-5,"E":8.0e-4,"A":4.5e-3},
{"x":2550,"r":1.25e-2,"e":2.6e-3,"a":8.0e-5,"R":1e-5,"E":7.2e-4,"A":4.2e-3},
{"x":2560,"r":1.75e-2,"e":2.7e-3,"a":1.9e-4,"R":1e-5,"E":6.5e-4,"A":3.9e-3},
{"x":2570,"r":1.1e-2,"e":2.1e-3,"a":6.6e-5,"R":1e-5,"E":5.8e-4,"A":3.6e-3},
{"x":2580,"r":1.45e-2,"e":1.95e-3,"a":5.0e-5,"R":1e-5,"E":5.0e-4,"A":3.4e-3},
{"x":2590,"r":2.3e-2,"e":2.5e-3,"a":3.7e-5,"R":1e-5,"E":4.5e-4,"A":3.2e-3},
{"x":2600,"r":4.0e-2,"e":3.1e-3,"a":4.5e-5,"R":1e-5,"E":4.0e-4,"A":3.0e-3},
{"x":2610,"r":1.5e-2,"e":5.2e-3,"a":3.1e-5,"R":1e-5,"E":3.5e-4,"A":3.0e-3},
{"x":2620,"r":3.0e-2,"e":6.6e-3,"a":1.5e-3,"R":0,"E":3.0e-4,"A":8.6e-3},
{"x":2630,"r":1e-5,"e":7.2e-3,"a":2.3e-5,"R":0,"E":2.5e-4,"A":1.8e-3},
{"x":2640,"e":7.5e-3,"a":5.8e-5,"R":0,"E":2.0e-4,"A":1.0e-3},
{"x":2650,"a":1e-5,"R":0,"E":1.5e-4,"A":4.0e-4}
]},
"layer":[
{"transform":[{"fold":["R","E","A"],"as":["k","v"]}],
 "mark":{"type":"rule","strokeWidth":1.6,"opacity":0.8},
 "encoding":{
  "x":{"field":"x","type":"quantitative","scale":{"domain":[0,2653],"nice":false,"zero":false},
   "axis":{"values":[0,500,1000,1500,2000,2500],"format":"d","grid":true,"tickSize":10,"labelPadding":17,"title":"Non-reference allele count (bin size : 10)","titleY":75,"titleBaseline":"middle"}},
  "y":{"field":"v","type":"quantitative","scale":{"domain":[0,0.05],"nice":false},
   "axis":{"orient":"right","values":[0,0.01,0.02,0.03,0.04,0.05],"grid":false,"tickSize":10,"labelPadding":19,"labelExpr":"datum.value == 0 ? '0' : format(datum.value, '.2f')","title":"Fraction of genotypes (impulses)","titleX":125,"titleY":277.5,"titleAngle":270,"titleAlign":"center","titleBaseline":"middle"}},
  "y2":{"datum":0},
  "color":{"field":"k","type":"nominal","scale":{"domain":["R","E","A"],"range":["#ff7070","#70ff70","#7070ff"]},"legend":null}
 }},
{"transform":[{"fold":["r","e","a"],"as":["k","v"]}],
 "mark":{"type":"point","filled":true,"opacity":1,"size":26},
 "encoding":{
  "x":{"field":"x","type":"quantitative"},
  "y":{"field":"v","type":"quantitative","scale":{"type":"log","domain":[1e-5,1],"nice":false},
   "axis":{"orient":"left","values":[1e-5,2e-5,3e-5,4e-5,5e-5,6e-5,7e-5,8e-5,9e-5,1e-4,2e-4,3e-4,4e-4,5e-4,6e-4,7e-4,8e-4,9e-4,0.001,0.002,0.003,0.004,0.005,0.006,0.007,0.008,0.009,0.01,0.02,0.03,0.04,0.05,0.06,0.07,0.08,0.09,0.1,0.2,0.3,0.4,0.5,0.6,0.7,0.8,0.9,1],
    "labelOverlap":false,"grid":true,
    "gridOpacity":{"condition":{"test":"abs(log(datum.value)/LN10 - round(log(datum.value)/LN10)) < 0.001","value":1},"value":0},
    "tickSize":{"condition":{"test":"abs(log(datum.value)/LN10 - round(log(datum.value)/LN10)) < 0.001","value":10},"value":5},
    "labelPadding":20,
    "labelExpr":"abs(log(datum.value)/LN10 - round(log(datum.value)/LN10)) > 0.001 ? '' : datum.value < 5e-5 ? '1e-05' : datum.value < 5e-4 ? '0.0001' : datum.value < 5e-3 ? '0.001' : datum.value < 0.05 ? '0.01' : datum.value < 0.5 ? '0.1' : '1'",
    "title":"Genotype discordance (points)","titleX":-148,"titleY":277.5,"titleAngle":270,"titleAlign":"center","titleBaseline":"middle"}},
  "color":{"field":"k","type":"nominal","scale":{"domain":["r","e","a"],"range":["#ff0000","#00ee00","#0000ff"]},
   "legend":{"orient":"none","legendX":-18,"legendY":659,"direction":"horizontal","title":null,
    "labelExpr":"datum.value == 'r' ? 'HomRef' : datum.value == 'e' ? 'Het' : 'HomAlt'",
    "labelFontSize":20,"labelColor":"#222","labelAlign":"right","labelOffset":-59,"symbolOffset":120,
    "symbolType":"circle","symbolSize":16,"columnPadding":47,"gridAlign":"none",
    "strokeColor":"#333","padding":3}}
 }}
],
"resolve":{"scale":{"y":"independent","color":"independent"}}
}
